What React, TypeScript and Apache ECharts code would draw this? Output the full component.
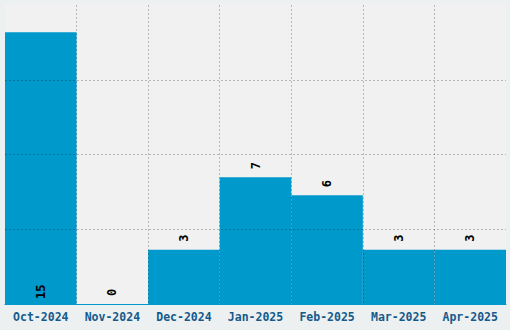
import React, { useEffect, useRef } from "react";
import * as echarts from "echarts";

const categories = ["Oct-2024", "Nov-2024", "Dec-2024", "Jan-2025", "Feb-2025", "Mar-2025", "Apr-2025"];
const counts = [15, 0, 3, 7, 6, 3, 3];
const yMax = 16.5;
const yInterval = 4.125;

const FONT = "'DejaVu Sans Mono', monospace";
const GRID_LINE = { color: "rgba(0,0,0,0.24)", type: [2, 2], width: 1 };

export default function App() {
  const ref = useRef<HTMLDivElement>(null);
  useEffect(() => {
    const chart = echarts.init(ref.current!, null, { renderer: "svg" });
    const data = counts.map((v, i) =>
      i === 0
        ? { value: v, label: { position: "insideBottom", distance: 5 } }
        : { value: v }
    );
    chart.setOption({
      animation: false,
      backgroundColor: "#ecf0f1",
      grid: {
        left: 5,
        right: 4,
        top: 5,
        bottom: 26,
        show: true,
        backgroundColor: "#f1f1f1",
        borderWidth: 0,
      },
      xAxis: [
        {
          type: "category",
          data: categories,
          z: 5,
          axisLine: { show: true, lineStyle: { color: "#0099cc", width: 1 } },
          axisTick: { show: false },
          axisLabel: {
            interval: 0,
            hideOverlap: false,
            color: "#165a8c",
            fontFamily: FONT,
            fontWeight: "bold",
            fontSize: 11.5,
            margin: 7,
          },
          splitLine: { show: false },
        },
        {
          type: "value",
          min: 0,
          max: categories.length,
          interval: 1,
          position: "top",
          z: 5,
          axisLine: { show: false },
          axisTick: { show: false },
          axisLabel: { show: false },
          splitLine: {
            show: true,
            showMinLine: false,
            showMaxLine: false,
            lineStyle: GRID_LINE,
          },
        },
      ],
      yAxis: {
        type: "value",
        min: 0,
        max: yMax,
        interval: yInterval,
        z: 5,
        axisLine: { show: false },
        axisTick: { show: false },
        axisLabel: { show: false },
        splitLine: {
          show: true,
          showMinLine: false,
          showMaxLine: false,
          lineStyle: GRID_LINE,
        },
      },
      series: [
        {
          type: "bar",
          xAxisIndex: 0,
          data,
          barCategoryGap: 0,
          itemStyle: { color: "#0099cc" },
          label: {
            show: true,
            position: "top",
            distance: 8,
            rotate: 90,
            align: "left",
            verticalAlign: "middle",
            color: "#000",
            fontFamily: FONT,
            fontWeight: "bold",
            fontSize: 12,
          },
        },
      ],
    });
    return () => chart.dispose();
  }, []);
  return (
    <div
      ref={ref}
      style={{ position: "absolute", left: 0, top: 0, width: 510, height: 330 }}
    />
  );
}
